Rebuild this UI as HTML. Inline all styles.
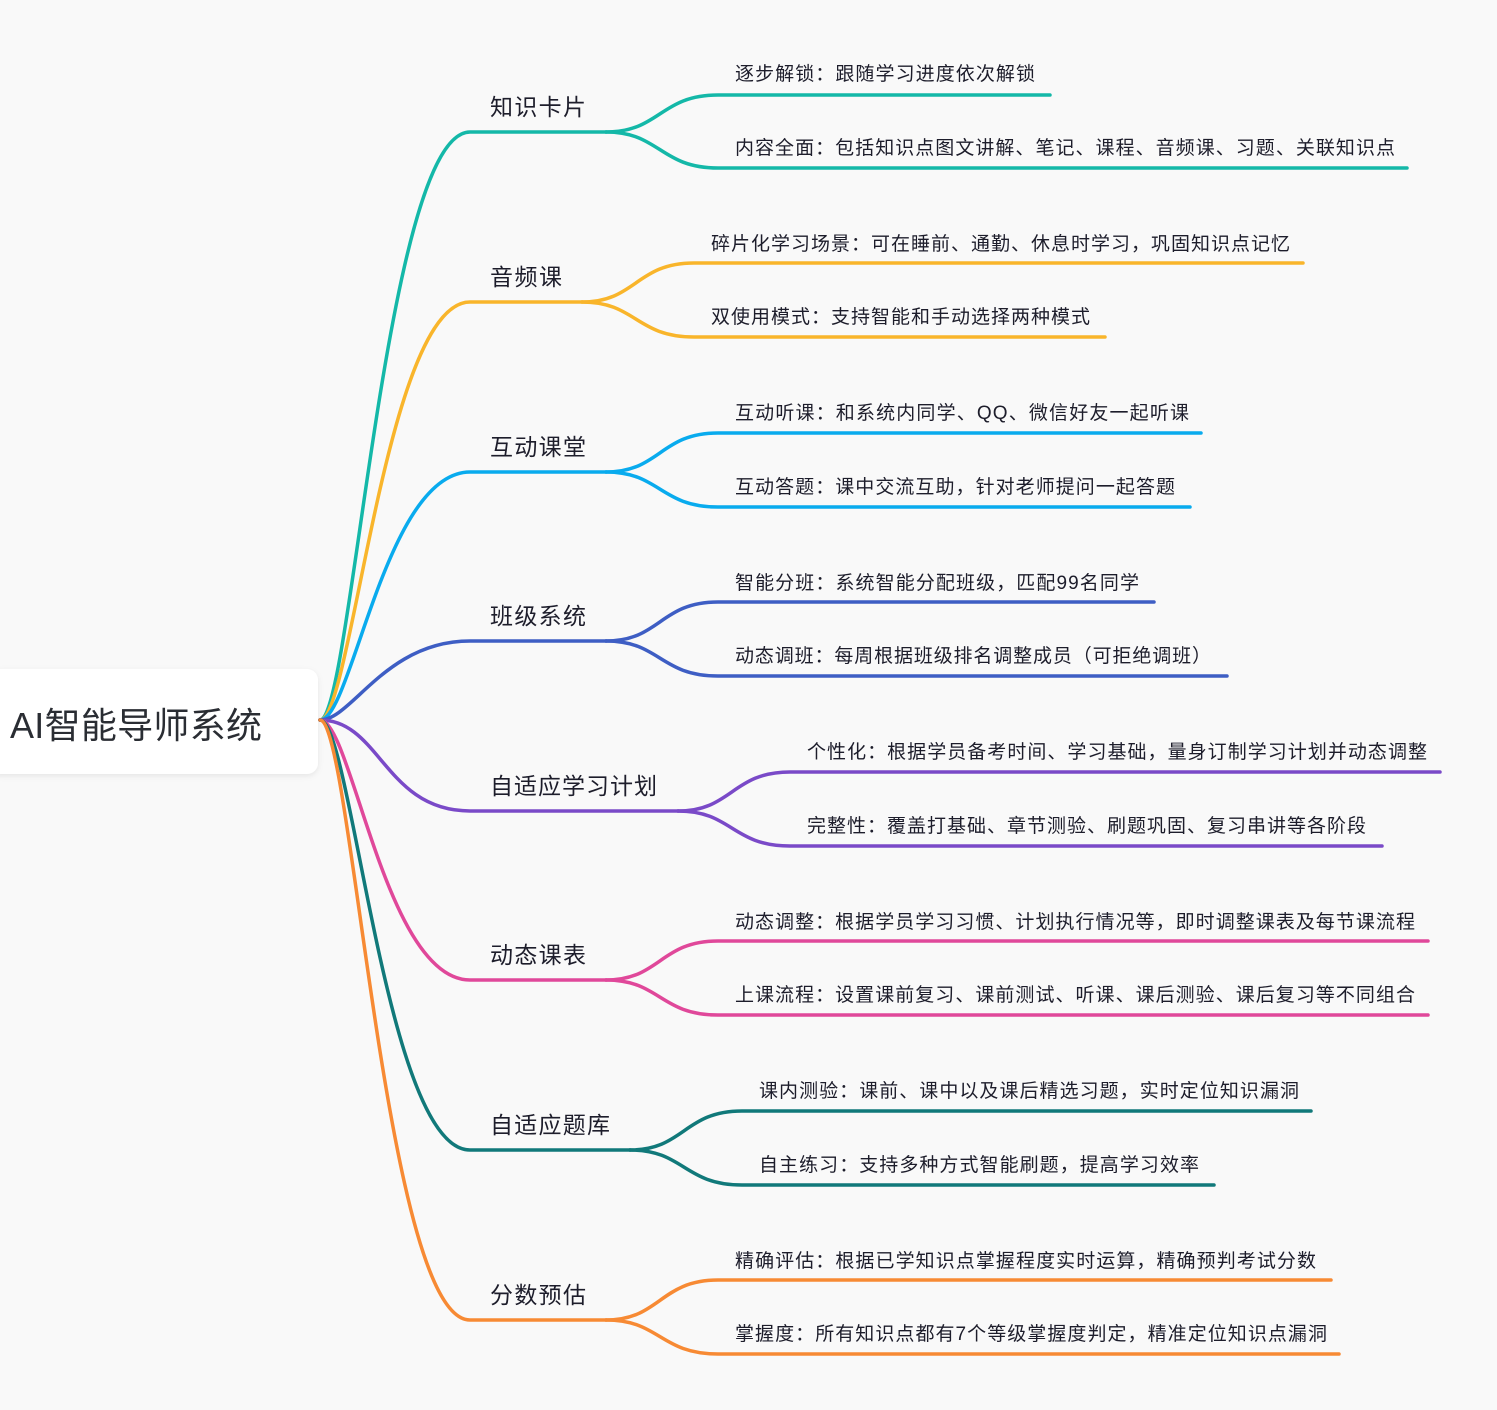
<!DOCTYPE html>
<html><head><meta charset="utf-8"><style>
html,body{margin:0;padding:0;background:#f9f9f9;}
svg{display:block;font-family:"Liberation Sans","Noto Sans CJK SC",sans-serif;}
</style></head><body>
<svg width="1497" height="1410" viewBox="0 0 1497 1410" xmlns="http://www.w3.org/2000/svg">
<defs><filter id="sh" x="-10%" y="-20%" width="120%" height="150%"><feDropShadow dx="0" dy="2" stdDeviation="3" flood-color="#000" flood-opacity="0.08"/></filter></defs>
<rect x="-12" y="669" width="330" height="105" rx="11" fill="#fff" filter="url(#sh)"/>
<text x="10" y="738" font-size="36" fill="#2a2d33" textLength="252" lengthAdjust="spacing">AI智能导师系统</text>
<g fill="none" stroke-width="3.5" stroke-linecap="round">
<g stroke="#14b8a8"><path d="M320 720 C352 720 385 132 470 132 L606 132"/><path d="M606 132 C660 132 660 95 718 95 L1050 95"/><path d="M606 132 C660 132 660 168 718 168 L1407 168"/></g>
<g stroke="#f9b52b"><path d="M320 720 C352 720 385 302 470 302 L582 302"/><path d="M582 302 C636 302 636 263 694 263 L1303 263"/><path d="M582 302 C636 302 636 337 694 337 L1105 337"/></g>
<g stroke="#09abee"><path d="M320 720 C352 720 385 472 470 472 L606 472"/><path d="M606 472 C660 472 660 433 718 433 L1201 433"/><path d="M606 472 C660 472 660 507 718 507 L1190 507"/></g>
<g stroke="#3e5ec4"><path d="M320 720 C352 720 385 641 470 641 L606 641"/><path d="M606 641 C660 641 660 602 718 602 L1154 602"/><path d="M606 641 C660 641 660 676 718 676 L1227 676"/></g>
<g stroke="#7a4ac8"><path d="M320 720 C380 720 385 811 470 811 L678 811"/><path d="M678 811 C732 811 732 772 790 772 L1440 772"/><path d="M678 811 C732 811 732 846 790 846 L1382 846"/></g>
<g stroke="#e0489a"><path d="M320 720 C352 720 385 980 470 980 L606 980"/><path d="M606 980 C660 980 660 941 718 941 L1428 941"/><path d="M606 980 C660 980 660 1015 718 1015 L1428 1015"/></g>
<g stroke="#11797a"><path d="M320 720 C352 720 385 1150 470 1150 L630 1150"/><path d="M630 1150 C684 1150 684 1111 742 1111 L1311 1111"/><path d="M630 1150 C684 1150 684 1185 742 1185 L1214 1185"/></g>
<g stroke="#f78a34"><path d="M320 720 C352 720 385 1320 470 1320 L606 1320"/><path d="M606 1320 C660 1320 660 1280 718 1280 L1331 1280"/><path d="M606 1320 C660 1320 660 1354 718 1354 L1339 1354"/></g>
</g>
<g font-size="23" fill="#1d1d2b" lengthAdjust="spacing">
<text x="490" y="115" textLength="96">知识卡片</text>
<text x="490" y="285" textLength="72">音频课</text>
<text x="490" y="455" textLength="96">互动课堂</text>
<text x="490" y="624" textLength="96">班级系统</text>
<text x="490" y="794" textLength="167">自适应学习计划</text>
<text x="490" y="963" textLength="96">动态课表</text>
<text x="490" y="1133" textLength="120">自适应题库</text>
<text x="490" y="1303" textLength="96">分数预估</text>
</g>
<g font-size="19" fill="#1d1d2b">
<text x="735" y="80" textLength="300" lengthAdjust="spacing">逐步解锁：跟随学习进度依次解锁</text>
<text x="735" y="154" textLength="660" lengthAdjust="spacing">内容全面：包括知识点图文讲解、笔记、课程、音频课、习题、关联知识点</text>
<text x="711" y="250" textLength="579" lengthAdjust="spacing">碎片化学习场景：可在睡前、通勤、休息时学习，巩固知识点记忆</text>
<text x="711" y="323" textLength="379" lengthAdjust="spacing">双使用模式：支持智能和手动选择两种模式</text>
<text x="735" y="419" textLength="454" lengthAdjust="spacing">互动听课：和系统内同学、QQ、微信好友一起听课</text>
<text x="735" y="493" textLength="440" lengthAdjust="spacing">互动答题：课中交流互助，针对老师提问一起答题</text>
<text x="735" y="589" textLength="404" lengthAdjust="spacing">智能分班：系统智能分配班级，匹配99名同学</text>
<text x="735" y="662" textLength="476" lengthAdjust="spacing">动态调班：每周根据班级排名调整成员（可拒绝调班）</text>
<text x="807" y="758" textLength="620" lengthAdjust="spacing">个性化：根据学员备考时间、学习基础，量身订制学习计划并动态调整</text>
<text x="807" y="832" textLength="559" lengthAdjust="spacing">完整性：覆盖打基础、章节测验、刷题巩固、复习串讲等各阶段</text>
<text x="735" y="928" textLength="680" lengthAdjust="spacing">动态调整：根据学员学习习惯、计划执行情况等，即时调整课表及每节课流程</text>
<text x="735" y="1001" textLength="680" lengthAdjust="spacing">上课流程：设置课前复习、课前测试、听课、课后测验、课后复习等不同组合</text>
<text x="759" y="1097" textLength="540" lengthAdjust="spacing">课内测验：课前、课中以及课后精选习题，实时定位知识漏洞</text>
<text x="759" y="1171" textLength="440" lengthAdjust="spacing">自主练习：支持多种方式智能刷题，提高学习效率</text>
<text x="735" y="1267" textLength="581" lengthAdjust="spacing">精确评估：根据已学知识点掌握程度实时运算，精确预判考试分数</text>
<text x="735" y="1340" textLength="592" lengthAdjust="spacing">掌握度：所有知识点都有7个等级掌握度判定，精准定位知识点漏洞</text>
</g>
</svg>
</body></html>
